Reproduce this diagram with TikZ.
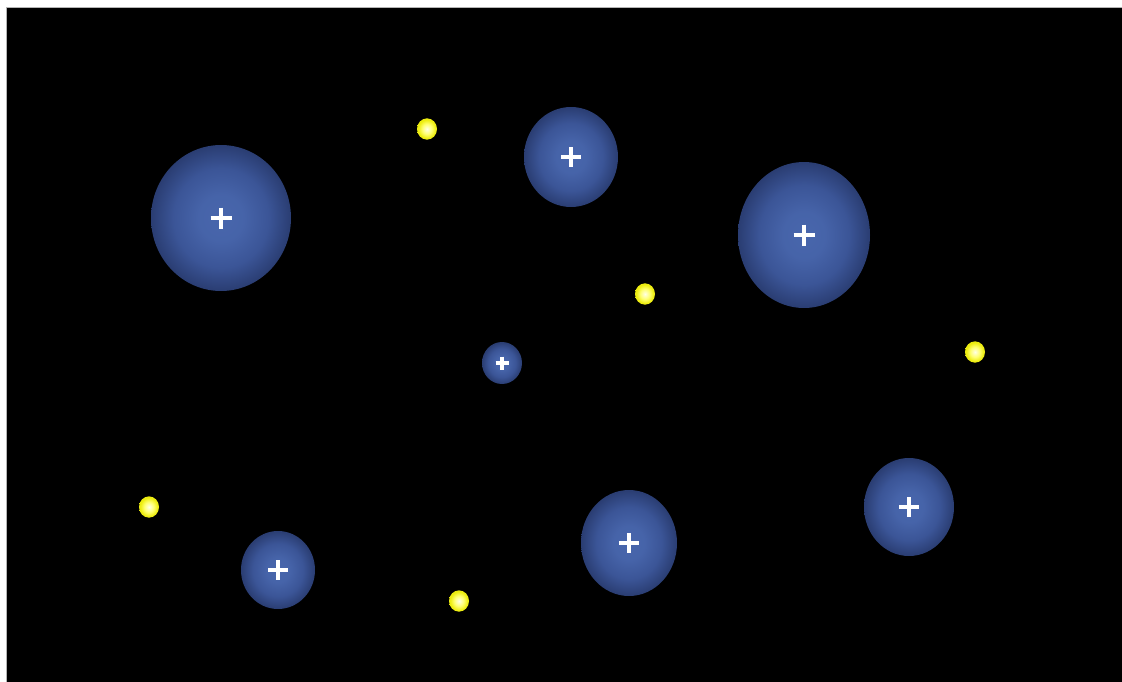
\documentclass[tikz,border=0pt]{standalone}
\usetikzlibrary{shapes.geometric}
\definecolor{PlanetCore}{HTML}{4866AC}
\definecolor{PlanetMid}{HTML}{3B5597}
\definecolor{PlanetRim}{HTML}{2A3D72}
\definecolor{StarCore}{HTML}{FFFFE6}
\definecolor{StarMid}{HTML}{FFFF70}
\definecolor{StarRim}{HTML}{EBEB10}
\definecolor{SkyEdge}{HTML}{B4B4B4}
\pgfdeclareradialshading{planetglow}{\pgfpointorigin}{color(0bp)=(PlanetCore); color(8bp)=(PlanetCore!85!PlanetMid); color(17bp)=(PlanetMid); color(25bp)=(PlanetRim); color(50bp)=(PlanetRim)}
\pgfdeclareradialshading{starglow}{\pgfpointorigin}{color(0bp)=(StarCore); color(12bp)=(StarMid); color(22bp)=(StarRim!90!yellow); color(25bp)=(StarRim); color(50bp)=(StarRim)}
\begin{document}
\begin{tikzpicture}[x=0.75pt,y=-0.75pt,
  planet/.style={ellipse,inner sep=0pt,shading=planetglow},
  star/.style={ellipse,inner sep=0pt,shading=starglow,minimum width=15pt,minimum height=16pt},
  cross/.style={white,line width=2.8pt}]
\useasboundingbox[fill=white] (0,0) rectangle (1122,682);
\fill[black] (6,7) rectangle (1122,682);
\draw[SkyEdge,line width=0.6pt] (6,682) -- (6,7) -- (1122,7);
% planets with their centre marks
\foreach \n/\x/\y/\rx/\ry/\arm in {planetA/221/218/70/73/10.5,planetB/571/157/47/50/10,
  planetC/804/235/66/73/10.5,planetD/502/363/20/21/6.5,planetE/278/570/37/39/10,
  planetF/629/543/48/53/10,planetG/909/507/45/49/10}{
  \node[planet,minimum width={1.5pt*\rx},minimum height={1.5pt*\ry}] (\n) at (\x,\y) {};
  \draw[cross] (\n.center) +(-\arm,0) -- +(\arm,0) +(0,-\arm) -- +(0,\arm);
}
% small stars
\foreach \n/\x/\y in {starA/427/129,starB/645/294,starC/975/352,starD/149/507,starE/459/601}
  \node[star] (\n) at (\x,\y) {};
\end{tikzpicture}
\end{document}
